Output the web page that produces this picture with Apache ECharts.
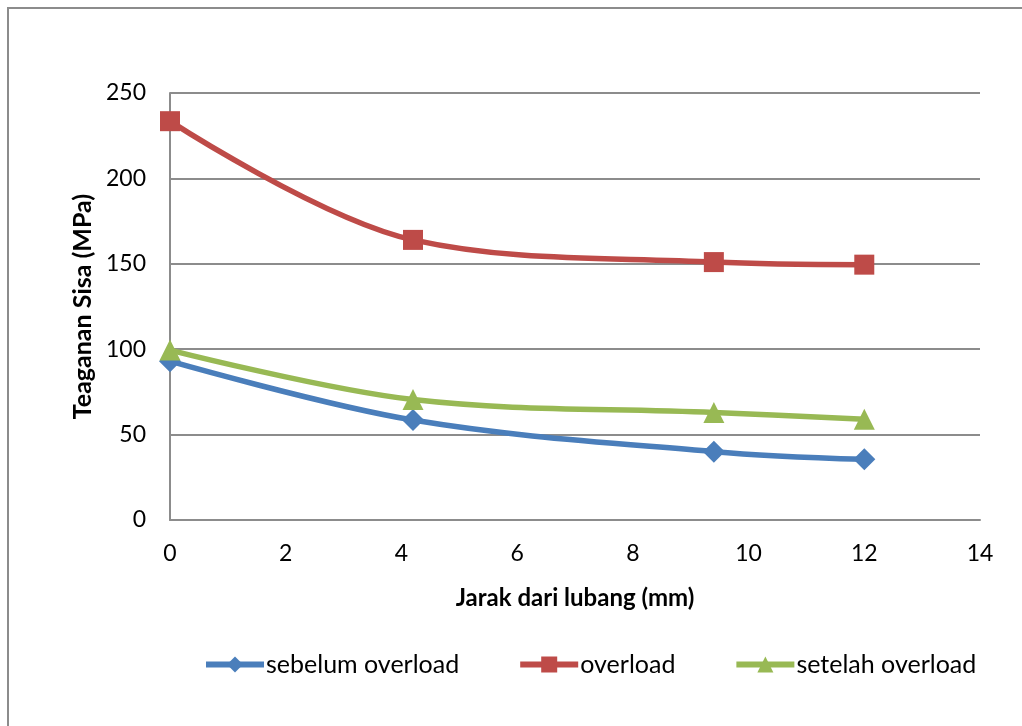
<!DOCTYPE html>
<html>
<head>
<meta charset="utf-8">
<script src="https://cdn.jsdelivr.net/npm/echarts@6/dist/echarts.min.js"></script>
<style>
  html, body { margin: 0; padding: 0; background: #fff; }
  #chart { width: 1022px; height: 726px; }
</style>
</head>
<body>
<div id="chart"></div>
<script>
// jarak dari lubang (mm)
var jarak = [0, 4.2, 9.4, 12];
var sebelum = [93, 58.5, 40, 35.5];
var overload = [233.5, 164, 151, 149.5];
var setelah = [99.5, 70.5, 63, 59];
var names = ['sebelum overload', 'overload', 'setelah overload'];

function pasang(xs, ys) {
  var out = [];
  for (var i = 0; i < xs.length; i++) out.push([xs[i], ys[i]]);
  return out;
}

var font = 'Lato, "Open Sans", sans-serif';
var myChart = echarts.init(document.getElementById('chart'));

var option = {
  animation: false,
  textStyle: { fontFamily: font },
  graphic: [{
    type: 'rect',
    shape: { x: 8, y: 8, width: 1030, height: 740 },
    style: { fill: 'none', stroke: '#8c8c8c', lineWidth: 2 },
    silent: true
  }],
  grid: { left: 170, right: 42, top: 93, bottom: 206 },
  xAxis: {
    type: 'value',
    min: 0, max: 14, interval: 2,
    name: 'Jarak dari lubang (mm)',
    nameLocation: 'middle',
    nameGap: 66,
    nameTextStyle: { fontSize: 24, fontWeight: 'bold', color: '#000', fontFamily: font },
    axisLine: { show: true, lineStyle: { color: '#8c8c8c', width: 2 } },
    axisTick: { show: false },
    axisLabel: { fontSize: 23, color: '#000', margin: 22, fontFamily: font },
    splitLine: { show: false }
  },
  yAxis: {
    type: 'value',
    min: 0, max: 250, interval: 50,
    name: 'Teaganan Sisa (MPa)',
    nameLocation: 'middle',
    nameGap: 71,
    nameTextStyle: { fontSize: 25, fontWeight: 'bold', color: '#000', fontFamily: font },
    axisLine: { show: true, lineStyle: { color: '#8c8c8c', width: 2 } },
    axisTick: { show: false },
    axisLabel: { fontSize: 23, color: '#000', margin: 24, fontFamily: font },
    splitLine: { show: true, lineStyle: { color: '#8c8c8c', width: 2 } }
  },
  legend: {
    top: 647,
    left: 198,
    itemGap: 58,
    itemWidth: 58,
    itemHeight: 20,
    lineStyle: { width: 6 },
    textStyle: { fontSize: 25, color: '#000', fontFamily: font, padding: [0, 0, 0, -3] },
    data: names
  },
  series: [
    {
      name: names[0], type: 'line', smooth: 0.35,
      data: pasang(jarak, sebelum),
      symbol: 'diamond', symbolSize: 22,
      lineStyle: { color: '#4a7ebb', width: 5.5 },
      itemStyle: { color: '#4a7ebb' }
    },
    {
      name: names[1], type: 'line', smooth: 0.35,
      data: pasang(jarak, overload),
      symbol: 'rect', symbolSize: 20,
      lineStyle: { color: '#be4b48', width: 5.5 },
      itemStyle: { color: '#be4b48' }
    },
    {
      name: names[2], type: 'line', smooth: 0.35,
      data: pasang(jarak, setelah),
      symbol: 'triangle', symbolSize: 21,
      lineStyle: { color: '#98b954', width: 5.5 },
      itemStyle: { color: '#98b954' }
    }
  ]
};

myChart.setOption(option);
</script>
</body>
</html>
